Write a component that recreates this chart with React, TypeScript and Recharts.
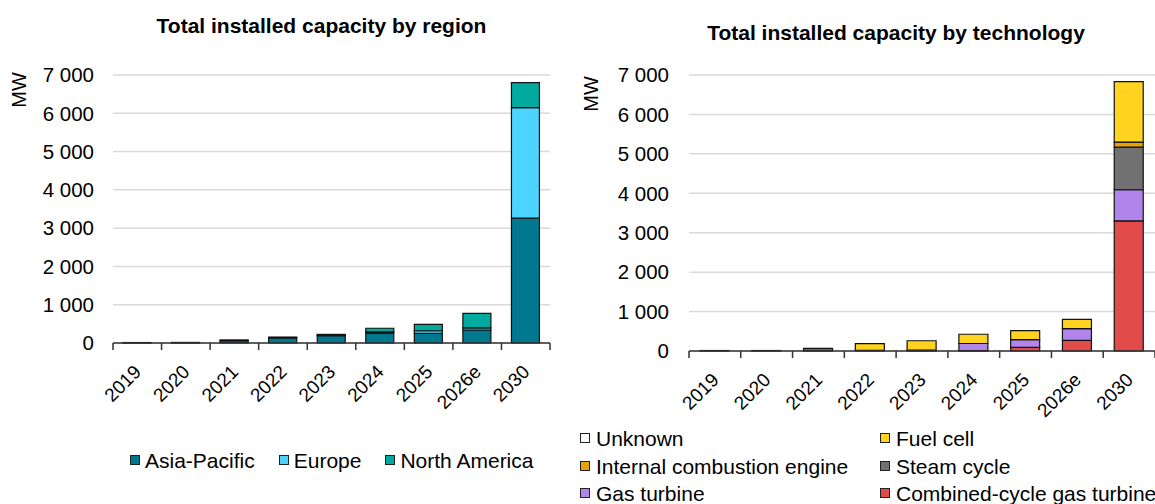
import React from "react"
import { BarChart, Bar, XAxis, YAxis, CartesianGrid } from "recharts"

const FONT = "'Liberation Sans', Arial, sans-serif"

const years = ["2019", "2020", "2021", "2022", "2023", "2024", "2025", "2026e", "2030"]
const yTicks = [0, 1000, 2000, 3000, 4000, 5000, 6000, 7000]

// by region (MW)
const asiaPacific = [8, 10, 60, 135, 190, 260, 250, 340, 3260]
const europe = [0, 0, 5, 5, 10, 30, 70, 55, 2890]
const northAmerica = [4, 5, 15, 15, 25, 95, 165, 380, 650]

// by technology (MW)
const ccgt = [0, 0, 0, 0, 0, 10, 93, 270, 3300]
const gasTurbine = [0, 0, 0, 0, 0, 180, 195, 296, 790]
const steamCycle = [0, 0, 0, 0, 0, 0, 0, 0, 1080]
const iceEngine = [0, 0, 20, 15, 20, 0, 0, 0, 130]
const fuelCell = [0, 0, 45, 170, 240, 235, 228, 237, 1530]
const unknown = [12, 12, 0, 0, 0, 0, 0, 0, 0]

const regionSeries = [
  { key: "ap", name: "Asia-Pacific", color: "#00788F", values: asiaPacific },
  { key: "eu", name: "Europe", color: "#4CD4FF", values: europe },
  { key: "na", name: "North America", color: "#00AA9F", values: northAmerica },
]

// stack order bottom -> top
const techSeries = [
  { key: "ccgt", name: "Combined-cycle gas turbine", color: "#E34A4A", values: ccgt },
  { key: "gt", name: "Gas turbine", color: "#B185EB", values: gasTurbine },
  { key: "steam", name: "Steam cycle", color: "#717171", values: steamCycle },
  { key: "ice", name: "Internal combustion engine", color: "#E8A300", values: iceEngine },
  { key: "fc", name: "Fuel cell", color: "#FFD31F", values: fuelCell },
  { key: "unk", name: "Unknown", color: "#FFFFFF", values: unknown },
]

// legend order (row-wise, two columns)
const techLegendOrder = ["unk", "fc", "ice", "steam", "gt", "ccgt"]

const regionData = years.map((year, i) => {
  const row: Record<string, string | number> = { year }
  regionSeries.forEach((s) => (row[s.key] = s.values[i]))
  return row
})

const techData = years.map((year, i) => {
  const row: Record<string, string | number> = { year }
  techSeries.forEach((s) => (row[s.key] = s.values[i]))
  return row
})

const fmt = (v: number) => String(v).replace(/\B(?=(\d{3})+(?!\d))/g, " ")

// year label rotated -45deg, plus tick marks on the category boundaries
const YearTick = (props: any) => {
  const { x, y, payload, index, band } = props
  const ax = x + 5
  const ay = y + 30
  const half = band / 2
  return (
    <g>
      <line x1={x - half} x2={x - half} y1={y} y2={y + 7} stroke="#333" strokeWidth={1.5} />
      {index === years.length - 1 && (
        <line x1={x + half} x2={x + half} y1={y} y2={y + 7} stroke="#333" strokeWidth={1.5} />
      )}
      <text
        x={ax}
        y={ay}
        transform={`rotate(-45 ${ax} ${ay})`}
        textAnchor="end"
        fontSize={19}
        fontFamily={FONT}
        fill="#000"
      >
        {payload.value}
      </text>
    </g>
  )
}

const Swatch = ({ color, gap }: { color: string; gap: number }) => (
  <span
    style={{
      display: "inline-block",
      width: 8,
      height: 8,
      background: color,
      border: "1px solid #222",
      marginRight: gap,
      verticalAlign: "middle",
      position: "relative",
      top: -2,
    }}
  />
)

function StackedChart({
  data,
  series,
  width,
  height,
  yWidth,
  right,
  bottom,
  gap,
  barSize,
}: {
  data: Record<string, string | number>[]
  series: { key: string; name: string; color: string }[]
  width: number
  height: number
  yWidth: number
  right: number
  bottom: number
  gap: number
  barSize: number
}) {
  const band = (width - yWidth - right) / years.length
  return (
    <BarChart
      width={width}
      height={height}
      data={data}
      margin={{ top: 75, right, bottom, left: 0 }}
      barSize={barSize}
    >
      <CartesianGrid vertical={false} stroke="#D9D9D9" strokeWidth={1.5} />
      <XAxis
        dataKey="year"
        interval={0}
        height={70}
        stroke="#333"
        strokeWidth={1.5}
        tickLine={false}
        tickSize={0}
        tickMargin={0}
        tick={<YearTick band={band} />}
      />
      <YAxis
        width={yWidth}
        domain={[0, 7000]}
        ticks={yTicks}
        axisLine={false}
        tickLine={false}
        tickSize={0}
        tickMargin={gap}
        tickFormatter={fmt}
        tick={{ fontSize: 20.5, fill: "#000", fontFamily: FONT }}
      />
      {series.map((s) => (
        <Bar
          key={s.key}
          dataKey={s.key}
          name={s.name}
          stackId="a"
          fill={s.color}
          stroke="#111"
          strokeWidth={1.2}
          isAnimationActive={false}
        />
      ))}
    </BarChart>
  )
}

export default function App() {
  const text: React.CSSProperties = { position: "absolute", fontFamily: FONT, color: "#000", whiteSpace: "nowrap" }
  return (
    <div style={{ position: "absolute", left: 0, top: 0, width: 1155, height: 504, background: "#fff", overflow: "hidden" }}>
      {/* left: by region */}
      <div style={{ position: "absolute", left: 0, top: 0 }}>
        <StackedChart
          data={regionData}
          series={regionSeries}
          width={570}
          height={504}
          yWidth={113}
          right={20}
          bottom={504 - 343 - 70}
          gap={19}
          barSize={28}
        />
      </div>
      <div style={{ ...text, left: 321.5, top: 14, transform: "translateX(-50%)", fontWeight: "bold", fontSize: 21 }}>
        Total installed capacity by region
      </div>
      <div style={{ ...text, left: 18.8, top: 89.5, fontSize: 20, transform: "translate(-50%, -50%) rotate(-90deg)" }}>MW</div>
      <div style={{ ...text, left: 130, top: 449, fontSize: 21, display: "flex" }}>
        {regionSeries.map((s, i) => (
          <span key={s.key} style={{ marginRight: i === 0 ? 24 : i === 1 ? 24 : 0 }}>
            <Swatch color={s.color} gap={5} />
            {s.name}
          </span>
        ))}
      </div>

      {/* right: by technology */}
      <div style={{ position: "absolute", left: 575, top: 0 }}>
        <StackedChart
          data={techData}
          series={techSeries}
          width={580}
          height={504}
          yWidth={114}
          right={0}
          bottom={504 - 351 - 70}
          gap={20}
          barSize={29}
        />
      </div>
      <div style={{ ...text, left: 896, top: 20.5, transform: "translateX(-50%)", fontWeight: "bold", fontSize: 21 }}>
        Total installed capacity by technology
      </div>
      <div style={{ ...text, left: 591, top: 94, fontSize: 20, transform: "translate(-50%, -50%) rotate(-90deg)" }}>MW</div>
      <div
        style={{
          ...text,
          left: 580,
          top: 425,
          fontSize: 21,
          display: "grid",
          gridTemplateColumns: "300px 300px",
          lineHeight: "27.5px",
        }}
      >
        {techLegendOrder.map((k) => {
          const s = techSeries.find((t) => t.key === k)!
          return (
            <span key={k}>
              <Swatch color={s.color} gap={6} />
              {s.name}
            </span>
          )
        })}
      </div>
    </div>
  )
}
